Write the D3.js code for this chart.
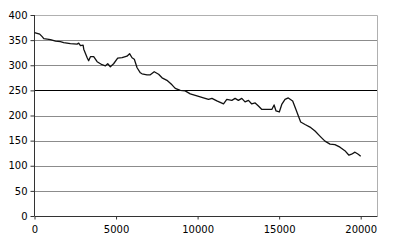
<!DOCTYPE html>
<html lang="en">
<head>
<meta charset="UTF-8">
<title>Line chart</title>
<script src="https://d3js.org/d3.v7.min.js"></script>
<style>
  body { margin: 0; background: #fff; }
  .tick text { font-family: "DejaVu Sans", Verdana, sans-serif; font-size: 10px; fill: #000; }
  .grid-line { stroke: #8c8c8c; stroke-width: 1; }
</style>
</head>
<body>
<div id="chart"></div>
<script>
// series
const xValues = [0, 320, 470, 570, 980, 1290, 1590, 1790, 2200, 2610, 2710, 2820, 2980, 3020, 3230, 3320,
  3430, 3630, 3840, 4140, 4350, 4490, 4650, 4850, 5100, 5370, 5670, 5830, 5980, 6120, 6290, 6490,
  6590, 6900, 7100, 7340, 7610, 7820, 8120, 8430, 8630, 8940, 9240, 9550, 9960, 10360, 10670, 10880,
  11180, 11590, 11790, 12100, 12300, 12500, 12710, 12910, 13120, 13320, 13530, 13730, 13940, 14240,
  14550, 14690, 14810, 15010, 15160, 15360, 15560, 15830, 16030, 16180, 16320, 16590, 16890, 17200,
  17500, 17810, 18120, 18420, 18730, 19030, 19280, 19440, 19650, 19850, 20000];
const yValues = [365, 362, 357, 353, 351, 348, 347, 345, 343, 342, 344, 339, 340, 332, 315, 309,
  317, 317, 307, 301, 299, 303, 297, 303, 314, 315, 318, 323, 315, 312, 295, 285,
  283, 281, 281, 287, 282, 275, 270, 261, 254, 250, 249, 243, 239, 235, 232, 234,
  229, 223, 232, 230, 234, 230, 234, 227, 230, 223, 225, 219, 212, 212,
  212, 221, 209, 207, 222, 232, 235, 229, 212, 199, 187, 182, 177, 169,
  159, 149, 143, 142, 137, 130, 121, 123, 127, 123, 119];
const xTicks = [0, 5000, 10000, 15000, 20000];
const yTicks = [0, 50, 100, 150, 200, 250, 300, 350, 400];
const refLine = 250;

const width = 400, height = 246;
const margin = { top: 15, right: 23, bottom: 30, left: 34.5 };

const svg = d3.select('#chart').append('svg')
  .attr('width', width)
  .attr('height', height);

const x = d3.scaleLinear().domain([0, 21000]).range([margin.left, width - margin.right]);
const y = d3.scaleLinear().domain([0, 400]).range([height - margin.bottom, margin.top]);

// grid lines
svg.selectAll('.grid-line')
  .data(yTicks.filter(d => d > 0 && d < 400))
  .enter().append('line')
  .attr('class', 'grid-line')
  .attr('x1', margin.left).attr('x2', width - margin.right)
  .attr('y1', d => Math.round(y(d)) + 0.5).attr('y2', d => Math.round(y(d)) + 0.5);

// plot border (top / right)
svg.append('path')
  .attr('d', `M${margin.left},${Math.round(y(400)) + 0.5}H${Math.round(x(21000)) + 0.5}V${Math.round(y(0))}`)
  .attr('fill', 'none').attr('stroke', '#b0b0b0');

// reference line
svg.append('line')
  .attr('x1', margin.left).attr('x2', width - margin.right)
  .attr('y1', Math.round(y(refLine)) + 0.5).attr('y2', Math.round(y(refLine)) + 0.5)
  .attr('stroke', '#000').attr('stroke-width', 1.2);

// axes
const xAxis = svg.append('g')
  .attr('transform', `translate(0,${Math.round(y(0)) + 0.5})`)
  .call(d3.axisBottom(x).tickValues(xTicks).tickFormat(d3.format('d')).tickSize(3).tickPadding(6));
const yAxis = svg.append('g')
  .attr('transform', `translate(${margin.left},0)`)
  .call(d3.axisLeft(y).tickValues(yTicks).tickSize(4).tickPadding(3));

[xAxis, yAxis].forEach(g => {
  g.select('.domain').attr('stroke', '#333');
  g.selectAll('.tick line').attr('stroke', '#333');
});
xAxis.select('.domain').attr('d', `M${margin.left},0H${Math.round(x(21000)) + 0.5}`);
yAxis.select('.domain').attr('d', `M0,${y(0)}V${y(400)}`);

// data line
const line = d3.line().x((d, i) => x(xValues[i])).y(d => y(d));
svg.append('path')
  .datum(yValues)
  .attr('fill', 'none')
  .attr('stroke', '#111')
  .attr('stroke-width', 1.3)
  .attr('stroke-linejoin', 'round')
  .attr('d', line);
</script>
</body>
</html>
